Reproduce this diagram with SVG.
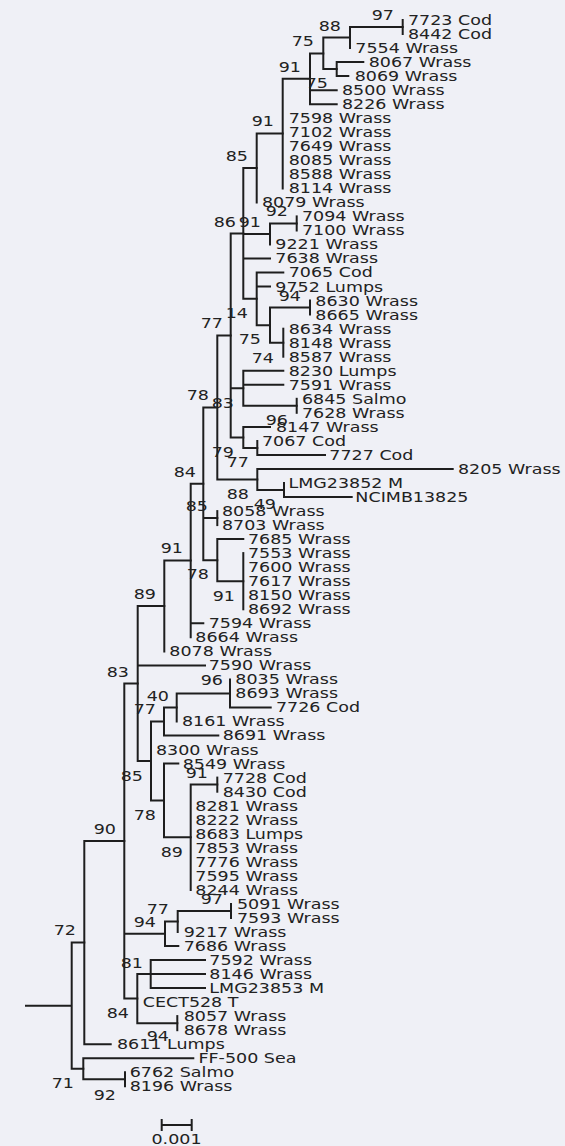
<svg xmlns="http://www.w3.org/2000/svg" width="565" height="1146" viewBox="0 0 565 1146">
<style>
.br{fill:none;stroke:#1e1e1e;stroke-width:2;stroke-linecap:square}
text{font-family:"DejaVu Sans",Verdana,sans-serif;font-size:14px;fill:#222}
.bs{text-anchor:end}
.sc{text-anchor:middle}
</style>
<rect width="565" height="1146" fill="#eff0f6"/>
<g id="connectors">
<path id="n-A" class="br" d="M402.7,20V34"/>
<path id="n-B" class="br" d="M350,27V48.1M350,27H402.7"/>
<path id="n-D" class="br" d="M336.7,62.1V76.1M336.7,62.1H363.3M336.7,76.1H348.3"/>
<path id="n-C" class="br" d="M323.3,37.6V69.1M323.3,37.6H350M323.3,69.1H336.7"/>
<path id="n-E" class="br" d="M310,53.4V104.2M310,53.4H323.3M310,90.2H336.7M310,104.2H336.7"/>
<path id="n-F" class="br" d="M282.7,78.8V188.4M282.7,78.8H310"/>
<path id="n-G" class="br" d="M256.7,133.6V202.4M256.7,133.6H282.7"/>
<path id="n-K" class="br" d="M296.7,216.4V230.5"/>
<path id="n-I" class="br" d="M270,223.4V244.5M270,223.4H296.7"/>
<path id="n-H" class="br" d="M243.3,168V298.8M243.3,168H256.7M243.3,234H270M243.3,258.5H270M243.3,298.8H256.7"/>
<path id="n-N" class="br" d="M310,300.6V314.6"/>
<path id="n-P" class="br" d="M283.3,328.7V356.7"/>
<path id="n-O" class="br" d="M270,307.6V342.7M270,307.6H310M270,342.7H283.3"/>
<path id="n-J" class="br" d="M256.7,272.5V325.2M256.7,272.5H283.3M256.7,286.6H270M256.7,325.2H270"/>
<path id="n-S" class="br" d="M296.7,398.8V412.8"/>
<path id="n-Q" class="br" d="M243.3,370.8V405.8M243.3,370.8H283.3M243.3,384.8H283.3M243.3,405.8H296.7"/>
<path id="n-T" class="br" d="M257.3,440.9V454.9M257.3,454.9H325"/>
<path id="n-R" class="br" d="M243.3,426.9V447.9M243.3,426.9H270M243.3,447.9H257.3"/>
<path id="n-L" class="br" d="M230.7,233.4V437.4M230.7,233.4H243.3M230.7,388.3H243.3M230.7,437.4H243.3"/>
<path id="n-W" class="br" d="M284,483V497M284,497H351.7"/>
<path id="n-V" class="br" d="M257.3,469V490M257.3,469H452.7M257.3,490H284"/>
<path id="n-U" class="br" d="M217.3,335.4V479.5M217.3,335.4H230.7M217.3,479.5H257.3"/>
<path id="n-Y" class="br" d="M217.3,511.1V525.1"/>
<path id="n-AA" class="br" d="M243.3,553.1V609.3"/>
<path id="n-Z" class="br" d="M217.3,539.1V581.2M217.3,539.1H243.3M217.3,581.2H243.3"/>
<path id="n-X" class="br" d="M203.3,407.4V560.2M203.3,407.4H217.3M203.3,518.1H217.3M203.3,560.2H217.3"/>
<path id="n-AB" class="br" d="M190.7,483.8V637.3M190.7,483.8H203.3M190.7,623.3H203.3"/>
<path id="n-AC" class="br" d="M164.3,560.6V651.4M164.3,560.6H190.7"/>
<path id="n-AI" class="br" d="M230,679.4V707.5M230,707.5H270.7"/>
<path id="n-AH" class="br" d="M176.7,693.4V721.5M176.7,693.4H230"/>
<path id="n-AF" class="br" d="M164,707.5V735.5M164,707.5H176.7M164,735.5H218.3"/>
<path id="n-AK" class="br" d="M217.3,777.6V791.7"/>
<path id="n-AJ" class="br" d="M190.7,784.6V889.9M190.7,784.6H217.3"/>
<path id="n-AG" class="br" d="M164,763.6V837.3M164,763.6H178.3M164,837.3H190.7"/>
<path id="n-AE" class="br" d="M151,721.5V800.4M151,721.5H164M151,800.4H164"/>
<path id="n-AD" class="br" d="M137.7,606V761M137.7,606H164.3M137.7,665.4H205M137.7,761H151"/>
<path id="n-AP" class="br" d="M231,903.9V917.9"/>
<path id="n-AO" class="br" d="M177.7,910.9V932M177.7,910.9H231"/>
<path id="n-AM" class="br" d="M165,921.4V946M165,921.4H177.7M165,946H178.3"/>
<path id="n-AQ" class="br" d="M150.7,960V988.1M150.7,960H205M150.7,974H205M150.7,988.1H205"/>
<path id="n-AR" class="br" d="M177.3,1016.1V1030.2"/>
<path id="n-AN" class="br" d="M137.3,974V1023.2M137.3,974H150.7M137.3,1023.2H177.3"/>
<path id="n-AL" class="br" d="M124.3,683.5V998.6M124.3,683.5H137.7M124.3,933.7H165M124.3,998.6H137.3"/>
<path id="n-AS" class="br" d="M84.3,841V1044.2M84.3,841H124.3M84.3,1044.2H110.7"/>
<path id="n-AU" class="br" d="M125,1072.3V1086.3"/>
<path id="n-AT" class="br" d="M83.3,1058.2V1079.3M83.3,1058.2H193.3M83.3,1079.3H125"/>
<path id="n-root" class="br" d="M71.7,942.6V1068.8M71.7,942.6H84.3M71.7,1068.8H83.3M26,1005.7H71.7"/>
</g>
<g id="scale-bar">
<path class="br" d="M161.7,1125H191.7M161.7,1119V1131M191.7,1119V1131" style="stroke-linecap:butt"/>
<g transform="scale(1.25,1)"><text class="sc" x="141.2" y="1144">0.001</text></g>
</g>
<g id="leaves" transform="scale(1.25,1)">
<g id="leaf-7723"><text x="326.4" y="25">7723 Cod</text></g>
<g id="leaf-8442"><text x="326.4" y="39">8442 Cod</text></g>
<g id="leaf-7554"><text x="284.3" y="53.1">7554 Wrass</text></g>
<g id="leaf-8067"><text x="295" y="67.1">8067 Wrass</text></g>
<g id="leaf-8069"><text x="283.8" y="81.1">8069 Wrass</text></g>
<g id="leaf-8500"><text x="273.6" y="95.2">8500 Wrass</text></g>
<g id="leaf-8226"><text x="273.6" y="109.2">8226 Wrass</text></g>
<g id="leaf-7598"><text x="231" y="123.2">7598 Wrass</text></g>
<g id="leaf-7102"><text x="231" y="137.2">7102 Wrass</text></g>
<g id="leaf-7649"><text x="231" y="151.3">7649 Wrass</text></g>
<g id="leaf-8085"><text x="231" y="165.3">8085 Wrass</text></g>
<g id="leaf-8588"><text x="231" y="179.3">8588 Wrass</text></g>
<g id="leaf-8114"><text x="231" y="193.4">8114 Wrass</text></g>
<g id="leaf-8079"><text x="209.6" y="207.4">8079 Wrass</text></g>
<g id="leaf-7094"><text x="241.6" y="221.4">7094 Wrass</text></g>
<g id="leaf-7100"><text x="241.6" y="235.5">7100 Wrass</text></g>
<g id="leaf-9221"><text x="220.3" y="249.5">9221 Wrass</text></g>
<g id="leaf-7638"><text x="220.3" y="263.5">7638 Wrass</text></g>
<g id="leaf-7065"><text x="231" y="277.5">7065 Cod</text></g>
<g id="leaf-9752"><text x="220.3" y="291.6">9752 Lumps</text></g>
<g id="leaf-8630"><text x="252.3" y="305.6">8630 Wrass</text></g>
<g id="leaf-8665"><text x="252.3" y="319.6">8665 Wrass</text></g>
<g id="leaf-8634"><text x="231" y="333.7">8634 Wrass</text></g>
<g id="leaf-8148"><text x="231" y="347.7">8148 Wrass</text></g>
<g id="leaf-8587"><text x="231" y="361.7">8587 Wrass</text></g>
<g id="leaf-8230"><text x="231" y="375.8">8230 Lumps</text></g>
<g id="leaf-7591"><text x="231" y="389.8">7591 Wrass</text></g>
<g id="leaf-6845"><text x="241.6" y="403.8">6845 Salmo</text></g>
<g id="leaf-7628"><text x="241.6" y="417.8">7628 Wrass</text></g>
<g id="leaf-8147"><text x="220.8" y="431.9">8147 Wrass</text></g>
<g id="leaf-7067"><text x="209.6" y="445.9">7067 Cod</text></g>
<g id="leaf-7727"><text x="263.5" y="459.9">7727 Cod</text></g>
<g id="leaf-8205"><text x="366.4" y="474">8205 Wrass</text></g>
<g id="leaf-LMG23852"><text x="230.8" y="488">LMG23852 M</text></g>
<g id="leaf-NCIMB13825"><text x="284.3" y="502">NCIMB13825</text></g>
<g id="leaf-8058"><text x="177.6" y="516.1">8058 Wrass</text></g>
<g id="leaf-8703"><text x="177.6" y="530.1">8703 Wrass</text></g>
<g id="leaf-7685"><text x="198.4" y="544.1">7685 Wrass</text></g>
<g id="leaf-7553"><text x="198.4" y="558.1">7553 Wrass</text></g>
<g id="leaf-7600"><text x="198.4" y="572.2">7600 Wrass</text></g>
<g id="leaf-7617"><text x="198.4" y="586.2">7617 Wrass</text></g>
<g id="leaf-8150"><text x="198.4" y="600.2">8150 Wrass</text></g>
<g id="leaf-8692"><text x="198.4" y="614.3">8692 Wrass</text></g>
<g id="leaf-7594"><text x="167" y="628.3">7594 Wrass</text></g>
<g id="leaf-8664"><text x="156.3" y="642.3">8664 Wrass</text></g>
<g id="leaf-8078"><text x="135.5" y="656.4">8078 Wrass</text></g>
<g id="leaf-7590"><text x="167" y="670.4">7590 Wrass</text></g>
<g id="leaf-8035"><text x="188.3" y="684.4">8035 Wrass</text></g>
<g id="leaf-8693"><text x="188.3" y="698.4">8693 Wrass</text></g>
<g id="leaf-7726"><text x="220.8" y="712.5">7726 Cod</text></g>
<g id="leaf-8161"><text x="145.6" y="726.5">8161 Wrass</text></g>
<g id="leaf-8691"><text x="178.2" y="740.5">8691 Wrass</text></g>
<g id="leaf-8300"><text x="124.8" y="754.6">8300 Wrass</text></g>
<g id="leaf-8549"><text x="146.2" y="768.6">8549 Wrass</text></g>
<g id="leaf-7728"><text x="178.2" y="782.6">7728 Cod</text></g>
<g id="leaf-8430"><text x="178.2" y="796.7">8430 Cod</text></g>
<g id="leaf-8281"><text x="156.3" y="810.7">8281 Wrass</text></g>
<g id="leaf-8222"><text x="156.3" y="824.7">8222 Wrass</text></g>
<g id="leaf-8683"><text x="156.3" y="838.7">8683 Lumps</text></g>
<g id="leaf-7853"><text x="156.3" y="852.8">7853 Wrass</text></g>
<g id="leaf-7776"><text x="156.3" y="866.8">7776 Wrass</text></g>
<g id="leaf-7595"><text x="156.3" y="880.8">7595 Wrass</text></g>
<g id="leaf-8244"><text x="156.3" y="894.9">8244 Wrass</text></g>
<g id="leaf-5091"><text x="189.6" y="908.9">5091 Wrass</text></g>
<g id="leaf-7593"><text x="189.6" y="922.9">7593 Wrass</text></g>
<g id="leaf-9217"><text x="147" y="937">9217 Wrass</text></g>
<g id="leaf-7686"><text x="147" y="951">7686 Wrass</text></g>
<g id="leaf-7592"><text x="167.5" y="965">7592 Wrass</text></g>
<g id="leaf-8146"><text x="167.5" y="979">8146 Wrass</text></g>
<g id="leaf-LMG23853"><text x="167.5" y="993.1">LMG23853 M</text></g>
<g id="leaf-CECT528"><text x="114.2" y="1007.1">CECT528 T</text></g>
<g id="leaf-8057"><text x="147" y="1021.1">8057 Wrass</text></g>
<g id="leaf-8678"><text x="147" y="1035.2">8678 Wrass</text></g>
<g id="leaf-8611"><text x="93.6" y="1049.2">8611 Lumps</text></g>
<g id="leaf-FF500"><text x="158.8" y="1063.2">FF-500 Sea</text></g>
<g id="leaf-6762"><text x="103.8" y="1077.3">6762 Salmo</text></g>
<g id="leaf-8196"><text x="103.8" y="1091.3">8196 Wrass</text></g>
</g>
<g id="bootstrap" transform="scale(1.25,1)">
<text class="bs" x="315.2" y="20.5">97</text>
<text class="bs" x="272.8" y="31">88</text>
<text class="bs" x="251.2" y="45.7">75</text>
<text class="bs" x="240.8" y="72">91</text>
<text class="bs" x="262.4" y="88">75</text>
<text class="bs" x="219.2" y="126">91</text>
<text class="bs" x="198.4" y="161.5">85</text>
<text class="bs" x="188.8" y="226.7">86</text>
<text class="bs" x="208.8" y="226.7">91</text>
<text class="bs" x="230.4" y="216">92</text>
<text class="bs" x="240.8" y="301">94</text>
<text class="bs" x="198.4" y="318.3">14</text>
<text class="bs" x="178.4" y="328">77</text>
<text class="bs" x="208.8" y="344.3">75</text>
<text class="bs" x="219.2" y="362.7">74</text>
<text class="bs" x="167.2" y="400">78</text>
<text class="bs" x="187.2" y="408">83</text>
<text class="bs" x="230.4" y="425">96</text>
<text class="bs" x="187.2" y="456.7">79</text>
<text class="bs" x="199.2" y="466.7">77</text>
<text class="bs" x="156.8" y="477">84</text>
<text class="bs" x="199.2" y="499.3">88</text>
<text class="bs" x="220.8" y="509.3">49</text>
<text class="bs" x="166.4" y="511">85</text>
<text class="bs" x="146.4" y="553.3">91</text>
<text class="bs" x="167.2" y="579.3">78</text>
<text class="bs" x="188" y="601">91</text>
<text class="bs" x="124.8" y="599.3">89</text>
<text class="bs" x="103.2" y="676.7">83</text>
<text class="bs" x="178.4" y="685">96</text>
<text class="bs" x="135.2" y="700.7">40</text>
<text class="bs" x="124.8" y="714.3">77</text>
<text class="bs" x="114.4" y="781">85</text>
<text class="bs" x="166.4" y="778.3">91</text>
<text class="bs" x="124.8" y="820">78</text>
<text class="bs" x="92.8" y="834">90</text>
<text class="bs" x="146.4" y="857.3">89</text>
<text class="bs" x="178.4" y="904.3">97</text>
<text class="bs" x="135.2" y="914.3">77</text>
<text class="bs" x="124.8" y="926.7">94</text>
<text class="bs" x="60.8" y="935">72</text>
<text class="bs" x="114.4" y="967.7">81</text>
<text class="bs" x="103.2" y="1018.3">84</text>
<text class="bs" x="135.2" y="1041">94</text>
<text class="bs" x="59.2" y="1088.3">71</text>
<text class="bs" x="92.8" y="1100">92</text>
</g>
</svg>
